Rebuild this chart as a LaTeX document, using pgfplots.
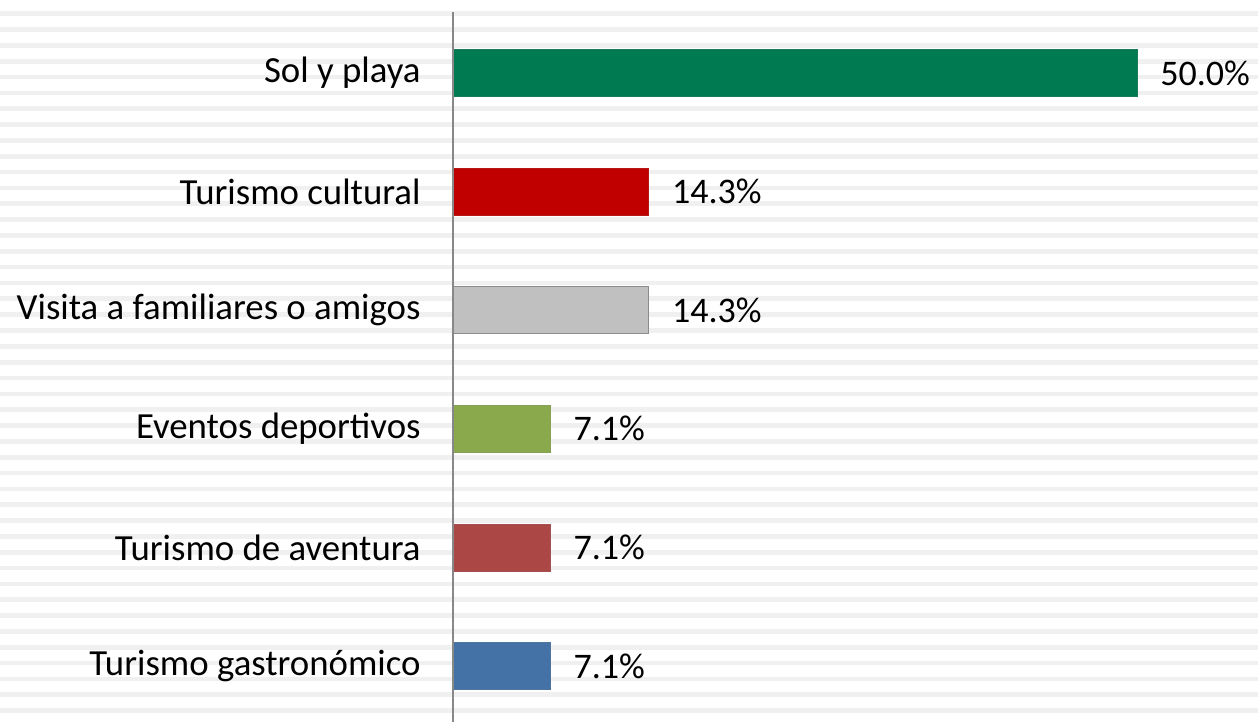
\documentclass[border=0pt]{standalone}
\usepackage{fontspec}
\setmainfont{Carlito}
\usepackage{pgfplots}
\pgfplotsset{compat=1.18}
\definecolor{band}{RGB}{240,240,240}
\definecolor{cgreen}{RGB}{0,122,80}
\definecolor{cred}{RGB}{192,0,0}
\definecolor{cgray}{RGB}{192,192,192}
\definecolor{colive}{RGB}{138,168,76}
\definecolor{cbrown}{RGB}{171,71,68}
\definecolor{cblue}{RGB}{68,114,166}
\definecolor{axgray}{RGB}{136,136,136}
\begin{document}
\begin{tikzpicture}
\begin{axis}[at={(0pt,0pt)},anchor=south west,scale only axis,
  width=629pt,height=361pt,
  xmin=0,xmax=1258,ymin=0,ymax=722,y dir=reverse,
  axis line style={draw=none},xtick=\empty,
  ytick={13.7,29.54,...,712},yticklabels=\empty,major tick length=0pt,
  yticklabel style={inner sep=0pt},
  ymajorgrids,grid style={band,line width=2.35pt}]
\end{axis}
\begin{axis}[at={(226.5pt,0pt)},anchor=south west,scale only axis,
  width=402.5pt,height=355pt,
  xmin=0,xmax=58.85,ymin=-0.472,ymax=5.514,
  axis line style={draw=none},xtick=\empty,
  ytick={0,...,5},
  yticklabels={Turismo gastronómico,Turismo de aventura,Eventos deportivos,Visita a familiares o amigos,Turismo cultural,Sol y playa},
  major tick length=0pt,
  yticklabel style={font=\fontsize{18.4}{21}\selectfont,anchor=east,inner sep=0pt,xshift=-16pt},
  xbar,bar width=23.5pt,bar shift=0pt,
  clip=false,
  /pgf/number format/assume math mode=true,
  nodes near coords={\pgfmathprintnumber[fixed,fixed zerofill,precision=1]{\pgfplotspointmeta}\%},
  every node near coord/.append style={font=\fontsize{18}{21}\selectfont,black,anchor=west,inner sep=0pt,xshift=11.5pt},
  ]
\addplot[fill=cblue,draw=cblue!80!gray] coordinates {(7.1,0)};
\addplot[fill=cbrown,draw=cbrown!80!gray] coordinates {(7.1,1)};
\addplot[fill=colive,draw=colive!80!gray] coordinates {(7.1,2)};
\addplot[fill=cgray,draw=gray!90] coordinates {(14.3,3)};
\addplot[fill=cred,draw=cred!80!gray] coordinates {(14.3,4)};
\addplot[fill=cgreen,draw=cgreen!80!gray] coordinates {(50.0,5)};
\draw[axgray,line width=1pt] (axis cs:0,-0.472) -- (axis cs:0,5.514);
\end{axis}
\pgfresetboundingbox
\useasboundingbox (0pt,0pt) rectangle (629pt,361pt);
\end{tikzpicture}
\end{document}
